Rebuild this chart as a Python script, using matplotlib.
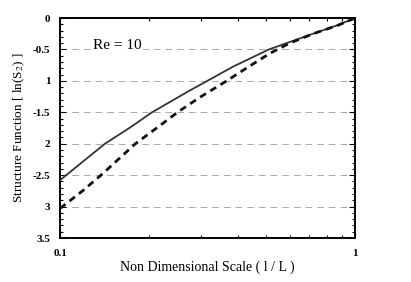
import matplotlib
matplotlib.use("Agg")
import matplotlib.pyplot as plt
from matplotlib.ticker import FixedLocator, MultipleLocator, NullFormatter

plt.rcParams["font.family"] = ["Liberation Serif", "DejaVu Serif"]
plt.rcParams["mathtext.fontset"] = "stix"

# Re = 10 の構造関数
solid_x = [0.1, 0.117, 0.142, 0.173, 0.205, 0.276, 0.31, 0.387, 0.51, 0.72, 0.87, 1.0]
solid_y = [-2.58, -2.32, -2.0, -1.74, -1.5, -1.15, -1.02, -0.77, -0.5, -0.25, -0.115, 0.0]
dashed_x = [0.1, 0.12, 0.14, 0.18, 0.227, 0.25, 0.298, 0.367, 0.408, 0.515, 0.6, 0.72, 0.87, 1.0]
dashed_y = [-3.03, -2.74, -2.47, -2.0, -1.65, -1.5, -1.26, -1.0, -0.86, -0.56, -0.4, -0.25, -0.12, 0.0]

y_ticks = [0, -0.5, -1, -1.5, -2, -2.5, -3, -3.5]
y_labels = ["0", "-0.5", "1", "-1.5", "2", "-2.5", "3", "3.5"]
grid_levels = [-0.5, -1, -1.5, -2, -2.5, -3]

fig = plt.figure(figsize=(4.11, 2.82), dpi=100)
ax = fig.add_axes([0.146, 0.156, 0.718, 0.780])

for g in grid_levels:
    ax.axhline(g, color="#aaa", linestyle=(0, (7, 5)), linewidth=0.7, zorder=1)

ax.plot(solid_x, solid_y, color="#333", linewidth=1.3, zorder=3)
ax.plot(dashed_x, dashed_y, color="#111", linewidth=2.0,
        linestyle=(0, (2.5, 1.8)), zorder=3)

ax.set_xscale("log")
ax.set_xlim(0.1, 1.0)
ax.set_ylim(-3.5, 0)

ax.xaxis.set_major_locator(FixedLocator([0.1, 1.0]))
ax.set_xticklabels(["0.1", "1"], fontsize=8, fontweight="bold")
ax.xaxis.set_minor_locator(FixedLocator([0.2, 0.3, 0.4, 0.5, 0.6, 0.7, 0.8, 0.9]))
ax.xaxis.set_minor_formatter(NullFormatter())

ax.set_yticks(y_ticks)
ax.set_yticklabels(y_labels, fontsize=8, fontweight="bold")
ax.yaxis.set_minor_locator(MultipleLocator(0.1))

ax.tick_params(which="both", direction="in", top=True, right=True, width=0.8)
ax.tick_params(which="major", length=4)
ax.tick_params(which="minor", length=2)
ax.tick_params(axis="y", pad=7)
ax.tick_params(axis="x", pad=8)

for s in ax.spines.values():
    s.set_linewidth(1.4)

ax.text(0.129, -0.49, "Re = 10", fontsize=11, va="baseline", ha="left",
        zorder=4, bbox=dict(facecolor="white", edgecolor="none", pad=1))

ax.set_xlabel("Non Dimensional Scale ( l / L )", fontsize=10, labelpad=2)
ax.set_ylabel("Structure Function [ ln(S$_2$) ]", fontsize=9.5, labelpad=4)

fig.savefig("out.png", dpi=100)
